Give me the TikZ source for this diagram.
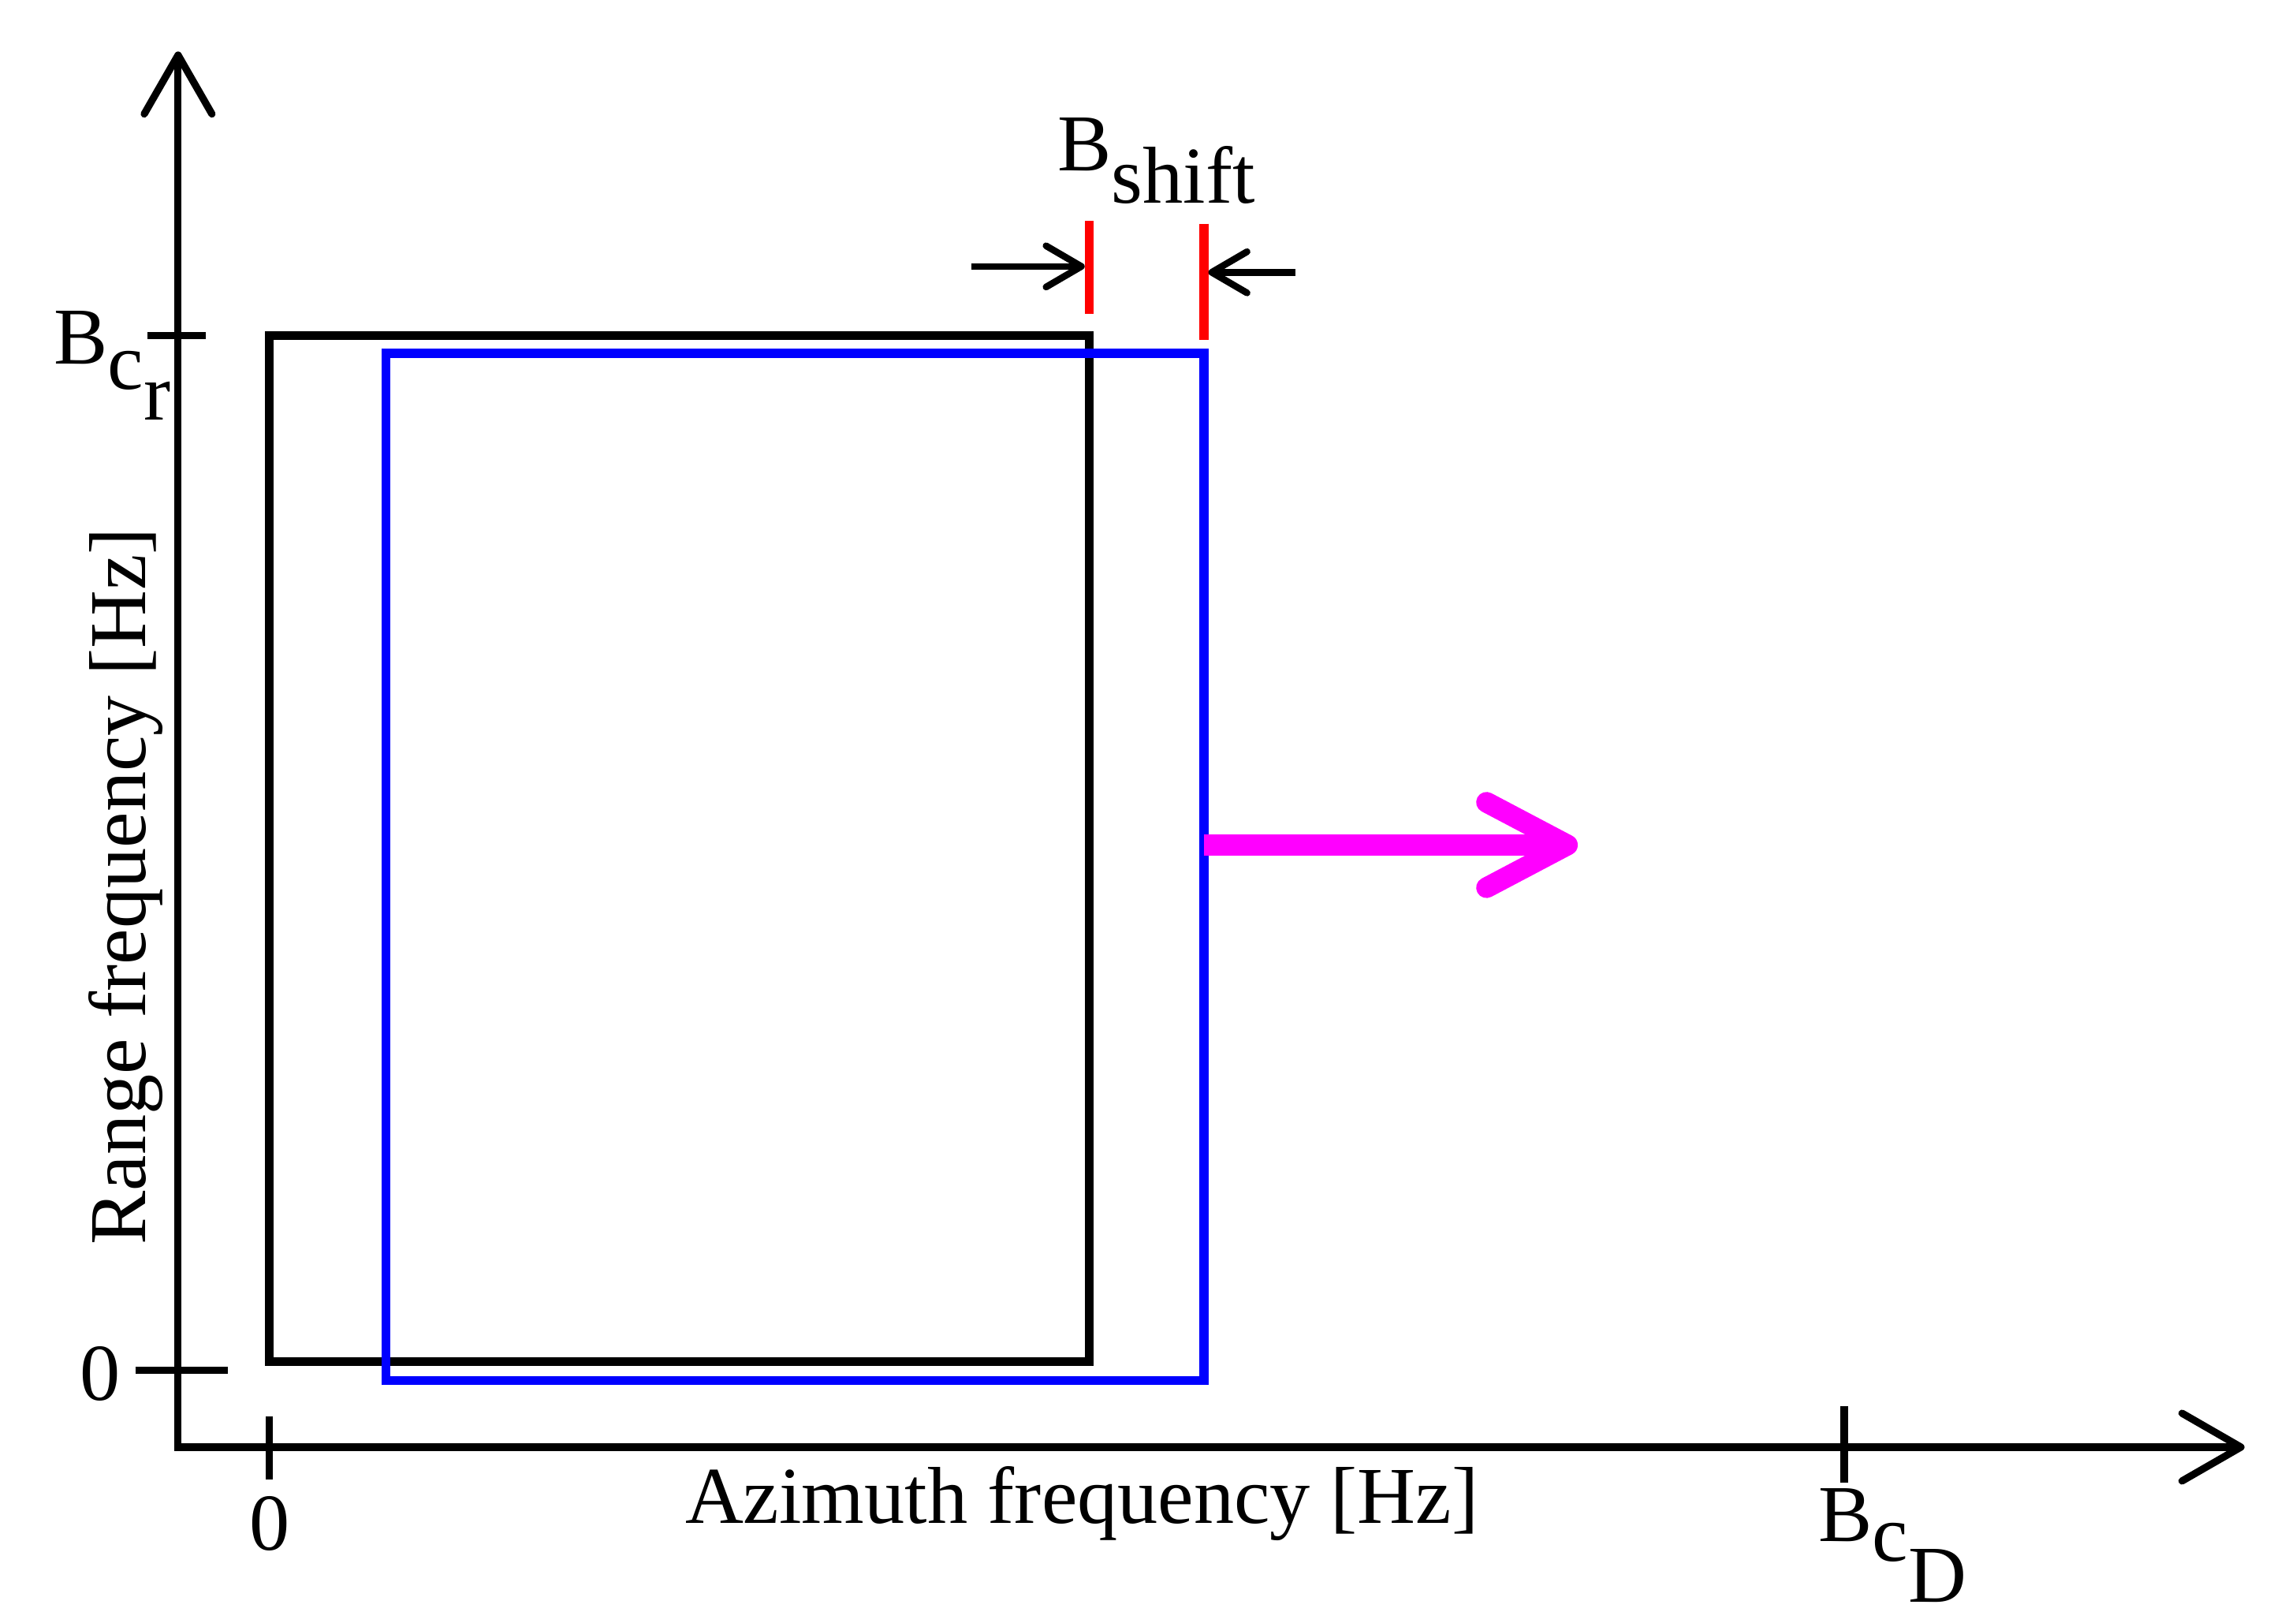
\documentclass[tikz,border=0pt]{standalone}
\usepackage{fontspec}
\setmainfont{Liberation Serif}
\usetikzlibrary{arrows.meta, positioning}

\definecolor{shiftpink}{RGB}{255,0,255}
\newcommand{\dropsub}[2][0.35em]{\raisebox{-#1}{#2}}

\begin{document}
\begin{tikzpicture}[
      font=\fontsize{15.6}{18}\selectfont,
      axis/.style={line width=1.4pt, line join=miter,
        {Straight Barb[length=4mm,width=4.6mm,round]}-{Straight Barb[length=4mm,width=4.6mm,round]}},
      tick/.style={line width=1.4pt},
      band/.style={line width=1.7pt},
      marker/.style={line width=1.7pt, red},
      pointer/.style={line width=1.3pt, -{Straight Barb[length=2.4mm,width=2.8mm,round]}},
      motion/.style={line width=4pt, shiftpink, -{Straight Barb[length=5.5mm,width=5.8mm,round]}},
      lbl/.style={inner sep=0pt}
    ]
    \useasboundingbox (0,0) rectangle (15.6,10.95);

    % axes
    \coordinate (origin) at (1.21,1.12);
    \coordinate (xend) at (15.25,1.12);
    \coordinate (yend) at (1.21,10.60);
    \draw[axis] (yend) -- (origin) -- (xend);

    % ticks
    \coordinate (xzero top) at (1.83,1.33);
    \coordinate (xzero bot) at (1.83,0.90);
    \coordinate (xbw top) at (12.53,1.40);
    \coordinate (xbw bot) at (12.53,0.88);
    \coordinate (yzero l) at (0.92,1.64);
    \coordinate (yzero r) at (1.55,1.64);
    \coordinate (ybw l) at (1.00,8.67);
    \coordinate (ybw r) at (1.40,8.67);
    \draw[tick] (xzero top) -- (xzero bot);
    \draw[tick] (xbw top) -- (xbw bot);
    \draw[tick] (yzero l) -- (yzero r);
    \draw[tick] (ybw l) -- (ybw r);

    % spectra
    \draw[band] (1.83,1.70) rectangle (7.40,8.67);
    \draw[band, blue] (2.62,1.57) rectangle (8.18,8.55);

    % shift markers
    \coordinate (mark1 top) at (7.40,9.45);
    \coordinate (mark1 bot) at (7.40,8.82);
    \coordinate (mark2 top) at (8.18,9.43);
    \coordinate (mark2 bot) at (8.18,8.64);
    \draw[marker] (mark1 top) -- (mark1 bot);
    \draw[marker] (mark2 top) -- (mark2 bot);
    \coordinate (in1) at (6.60,9.14);
    \coordinate (hit1) at (7.37,9.14);
    \coordinate (in2) at (8.80,9.10);
    \coordinate (hit2) at (8.21,9.10);
    \draw[pointer] (in1) -- (hit1);
    \draw[pointer] (in2) -- (hit2);

    % direction of the shift
    \coordinate (move start) at (8.18,5.21);
    \coordinate (move end) at (10.72,5.21);
    \draw[motion] (move start) -- (move end);

    % labels
    \node[lbl, anchor=base west] (bshift) at (7.18,9.79) {B\dropsub[0.4em]{shift}};
    \node[lbl, anchor=base west] (bcr) at (0.36,8.48) {B\dropsub[0.32em]{c\dropsub[0.38em]{r}}};
    \node[lbl, anchor=base] (yzero) at (0.68,1.44) {0};
    \node[lbl, anchor=base] (xzero) at (1.83,0.42) {0};
    \node[lbl, anchor=base west] (bcd) at (12.35,0.48) {B\dropsub[0.25em]{c\dropsub[0.5em]{D}}};
    \node[lbl, anchor=base] (xlabel) at (7.35,0.60) {Azimuth frequency [Hz]};
    \node[lbl, anchor=base, rotate=90] (ylabel) at (0.99,4.93) {Range frequency [Hz]};
\end{tikzpicture}
\end{document}
